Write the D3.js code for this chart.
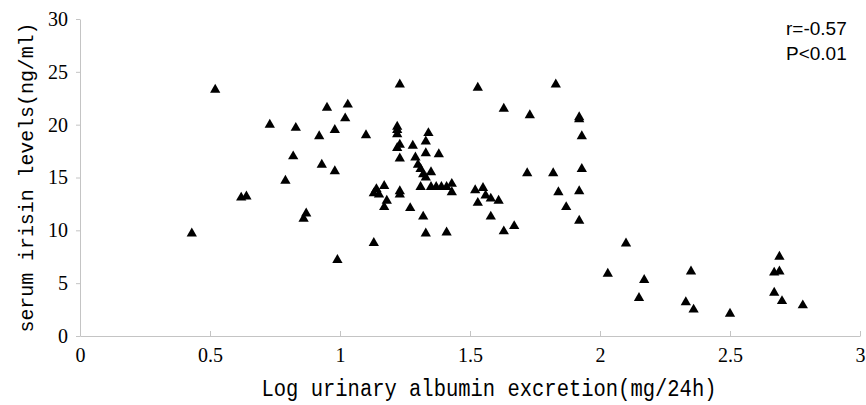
<!DOCTYPE html>
<html>
<head>
<meta charset="utf-8">
<script src="https://cdn.jsdelivr.net/npm/d3@7"></script>
<style>
  body { margin: 0; background: #fff; }
  .axis path, .axis line { stroke: #c4c4c4; }
</style>
</head>
<body>
<div id="chart"></div>
<script>
// log urinary albumin excretion (x) and serum irisin (y)
var albuminLog = [0.43, 0.52, 0.62, 0.64, 0.73, 0.79, 0.82, 0.83, 0.86, 0.87,
    0.92, 0.93, 0.95, 0.98, 0.98, 0.99, 1.02, 1.03, 1.10, 1.13,
    1.13, 1.14, 1.15, 1.17, 1.17, 1.18, 1.22, 1.22, 1.22, 1.23,
    1.22, 1.23, 1.23, 1.23, 1.23, 1.27, 1.28, 1.29, 1.30, 1.31,
    1.32, 1.33, 1.31, 1.33, 1.34, 1.33, 1.35, 1.32, 1.33, 1.35,
    1.37, 1.39, 1.41, 1.38, 1.43, 1.43, 1.41, 1.53, 1.52, 1.55,
    1.56, 1.58, 1.53, 1.61, 1.58, 1.63, 1.63, 1.67, 1.73, 1.72,
    1.83, 1.82, 1.84, 1.87, 1.92, 1.92, 1.93, 1.93, 1.92, 1.92,
    2.03, 2.10, 2.17, 2.15, 2.35, 2.33, 2.36, 2.50, 2.69, 2.67,
    2.69, 2.67, 2.70, 2.78];
var irisin = [9.7, 23.3, 13.1, 13.2, 20.0, 14.7, 17.0, 19.7, 11.1, 11.6,
    18.9, 16.2, 21.6, 19.5, 15.6, 7.2, 20.6, 21.9, 19.0, 8.8,
    13.5, 13.9, 13.4, 14.2, 12.2, 12.8, 19.8, 19.5, 19.1, 18.1,
    17.8, 16.8, 23.8, 13.7, 13.4, 12.1, 18.0, 16.9, 16.2, 15.8,
    15.3, 15.0, 14.1, 18.4, 19.2, 17.3, 15.5, 11.3, 9.7, 14.1,
    14.1, 14.1, 14.1, 17.2, 14.4, 13.6, 9.8, 23.5, 13.8, 14.0,
    13.3, 13.0, 12.6, 12.8, 11.3, 21.5, 9.9, 10.4, 20.9, 15.4,
    23.8, 15.4, 13.6, 12.2, 20.7, 20.5, 18.9, 15.8, 13.7, 10.9,
    5.9, 8.75, 5.3, 3.6, 6.1, 3.2, 2.5, 2.1, 7.5, 6.0,
    6.1, 4.1, 3.3, 2.9];
var xTicks = [0, 0.5, 1, 1.5, 2, 2.5, 3];
var yTicks = [0, 5, 10, 15, 20, 25, 30];
var statLines = ["r=-0.57", "P<0.01"];

var width = 866, height = 405;
var margin = {top: 19, right: 6, bottom: 69, left: 80};
var plotW = width - margin.left - margin.right;
var plotH = height - margin.top - margin.bottom;

var svg = d3.select("#chart").append("svg")
    .attr("width", width)
    .attr("height", height);

var g = svg.append("g")
    .attr("transform", "translate(" + margin.left + "," + margin.top + ")");

var x = d3.scaleLinear().domain([0, 3]).range([0, plotW]);
var y = d3.scaleLinear().domain([0, 30]).range([plotH, 0]);

// x axis, ticks pointing up into the plot
var xAxis = g.append("g")
    .attr("class", "axis")
    .attr("transform", "translate(0," + plotH + ")")
    .call(d3.axisBottom(x).tickValues(xTicks).tickSizeInner(-5).tickSizeOuter(0)
        .tickPadding(12).tickFormat(d3.format("")));
xAxis.selectAll("text")
    .attr("fill", "#000")
    .style("font-family", "'Liberation Serif', serif")
    .style("font-size", "20px");

var yAxis = g.append("g")
    .attr("class", "axis")
    .call(d3.axisLeft(y).tickValues(yTicks).tickSizeInner(4).tickSizeOuter(0)
        .tickPadding(8).tickFormat(d3.format("")));
yAxis.selectAll("text")
    .attr("fill", "#000")
    .style("font-family", "'Liberation Serif', serif")
    .style("font-size", "20px");

var points = albuminLog.map(function(d, i) {
    return {x: d, y: irisin[i]};
});

g.selectAll("path.pt")
    .data(points)
    .enter().append("path")
    .attr("class", "pt")
    .attr("d", d3.symbol().type(d3.symbolTriangle).size(46))
    .attr("transform", function(d) {
        return "translate(" + x(d.x) + "," + y(d.y) + ")";
    })
    .attr("fill", "#000");

// axis titles
svg.append("text")
    .attr("x", 489)
    .attr("y", 396)
    .attr("text-anchor", "middle")
    .attr("textLength", 455)
    .attr("lengthAdjust", "spacingAndGlyphs")
    .style("font-family", "'Liberation Mono', monospace")
    .style("font-size", "23px")
    .text("Log urinary albumin excretion(mg/24h)");

svg.append("text")
    .attr("transform", "translate(33," + (margin.top + plotH / 2) + ")rotate(-90)")
    .attr("text-anchor", "middle")
    .attr("textLength", 310)
    .attr("lengthAdjust", "spacingAndGlyphs")
    .style("font-family", "'Liberation Mono', monospace")
    .style("font-size", "21px")
    .text("serum irisin levels(ng/ml)");

// correlation note, top right
svg.selectAll("text.stat")
    .data(statLines)
    .enter().append("text")
    .attr("class", "stat")
    .attr("x", 786)
    .attr("y", function(d, i) { return 35 + i * 25; })
    .style("font-family", "'Liberation Sans', Arial, sans-serif")
    .style("font-size", "19px")
    .text(function(d) { return d; });
</script>
</body>
</html>
